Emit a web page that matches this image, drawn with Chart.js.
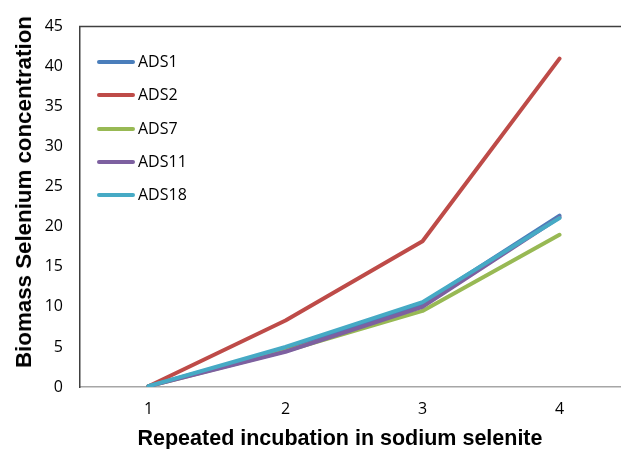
<!DOCTYPE html>
<html>
<head>
<meta charset="utf-8">
<script src="https://cdn.jsdelivr.net/npm/chart.js@4/dist/chart.umd.min.js"></script>
<style>
  html, body { margin: 0; padding: 0; background: #fff; overflow: hidden; }
  #wrap { position: relative; width: 630px; height: 449px; }
  #legend { position: absolute; left: 97px; top: 46px; font: 16px "Open Sans", sans-serif; color: #000; }
  .row { position: absolute; left: 0; height: 32px; white-space: nowrap; }
  .row .swatch { position: absolute; left: 0; width: 38px; height: 4px; border-radius: 2px; }
  .row .lbl { position: absolute; left: 41px; line-height: 20px; }
  .axis-title { position: absolute; font-family: "Liberation Sans", Arial, sans-serif; font-weight: bold; color: #000; white-space: nowrap; }
  #ytitle { font-size: 22.3px; left: 24px; top: 192px; transform: translate(-50%, -50%) rotate(-90deg); }
  #xtitle { font-size: 21.5px; left: 340px; top: 438px; transform: translate(-50%, -50%); }
</style>
</head>
<body>
<div id="wrap">
  <canvas id="c"></canvas>
  <div id="legend"></div>
  <div class="axis-title" id="ytitle">Biomass Selenium concentration</div>
  <div class="axis-title" id="xtitle">Repeated incubation in sodium selenite</div>
</div>
<script>
// Incubation rounds on the x axis
const rounds = ['1', '2', '3', '4'];

// Biomass selenium per strain, one value per incubation round
const ads1  = [0.1, 4.8, 10.4, 21.4];
const ads2  = [0.1, 8.3, 18.2, 41.0];
const ads7  = [0.1, 4.5,  9.5, 19.0];
const ads11 = [0.1, 4.4, 10.0, 21.2];
const ads18 = [0.1, 5.0, 10.6, 21.1];

const seriesNames  = ['ADS1', 'ADS2', 'ADS7', 'ADS11', 'ADS18'];
const seriesValues = [ads1, ads2, ads7, ads11, ads18];
const seriesColors = ['#4a7ebb', '#be4b48', '#98b954', '#7d60a0', '#46aac5'];

// y axis range
const yMin = 0, yMax = 45, yStep = 5;

const datasets = seriesNames.map((name, i) => ({
  label: name,
  data: seriesValues[i],
  borderColor: seriesColors[i],
  backgroundColor: seriesColors[i],
  borderWidth: 4,
  borderCapStyle: 'round',
  borderJoinStyle: 'round',
  pointRadius: 0,
  tension: 0,
  fill: false,
  // later series are painted over earlier ones
  order: seriesNames.length - i
}));

// frame line along the top of the plot area
const topFrame = {
  id: 'topFrame',
  afterDraw(chart) {
    const { ctx, chartArea } = chart;
    ctx.save();
    ctx.strokeStyle = '#404040';
    ctx.lineWidth = 1.5;
    ctx.beginPath();
    ctx.moveTo(chartArea.left - 1, chartArea.top);
    ctx.lineTo(chartArea.right, chartArea.top);
    ctx.stroke();
    ctx.restore();
  }
};

const chart = new Chart(document.getElementById('c'), {
  type: 'line',
  data: { labels: rounds, datasets },
  plugins: [topFrame],
  options: {
    responsive: true,
    maintainAspectRatio: false,
    animation: false,
    layout: { padding: { top: 24, right: 2, left: 0, bottom: 0 } },
    plugins: { legend: { display: false }, tooltip: { enabled: false } },
    scales: {
      x: {
        type: 'category',
        offset: true,
        grid: { display: false, drawTicks: false },
        border: { display: true, color: '#a6a6a6', width: 1.5 },
        ticks: { padding: 13, color: '#000', font: { family: 'Open Sans', size: 16 } },
        afterFit(scale) { scale.height = 62; }
      },
      y: {
        min: yMin,
        max: yMax,
        grid: { display: false, drawTicks: false },
        border: { display: true, color: '#404040', width: 1.5 },
        ticks: { stepSize: yStep, padding: 17, color: '#000', font: { family: 'Open Sans', size: 16 } },
        afterFit(scale) { scale.width = 80; }
      }
    }
  }
});

// legend built from the datasets, placed inside the plot area
const legend = document.getElementById('legend');
chart.data.datasets.forEach((ds, i) => {
  const row = document.createElement('div');
  row.className = 'row';
  row.style.top = (i * 33.3) + 'px';
  const sw = document.createElement('div');
  sw.className = 'swatch';
  sw.style.background = ds.borderColor;
  sw.style.top = '14px';
  const lbl = document.createElement('div');
  lbl.className = 'lbl';
  lbl.style.top = '5px';
  lbl.textContent = ds.label;
  row.appendChild(sw);
  row.appendChild(lbl);
  legend.appendChild(row);
});
</script>
</body>
</html>
